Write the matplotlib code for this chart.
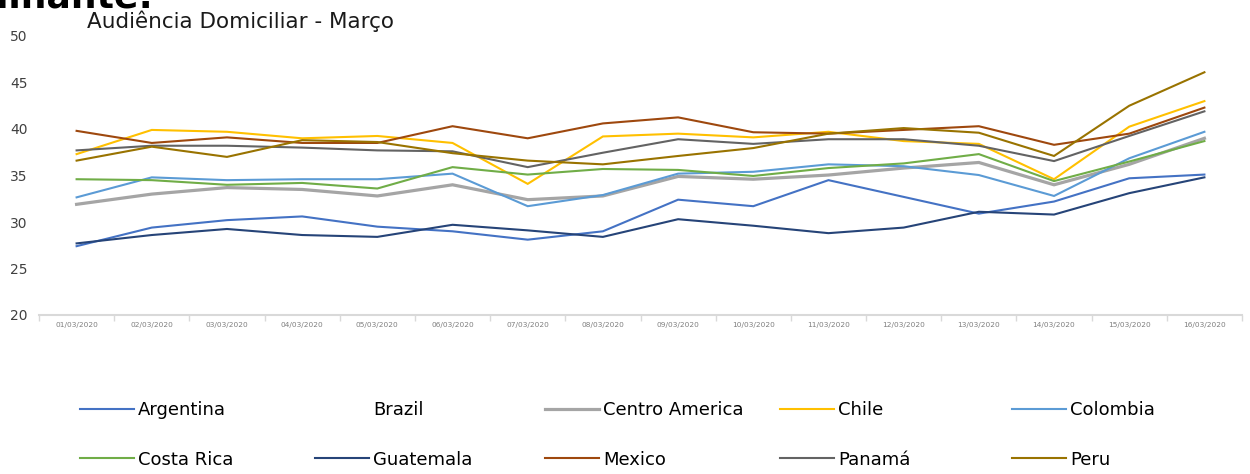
import numpy as np
import matplotlib
matplotlib.use("Agg")
import matplotlib.pyplot as plt
from matplotlib.lines import Line2D

plt.rcParams['font.family'] = ['DejaVu Sans']

dates = ['01/03/2020', '02/03/2020', '03/03/2020', '04/03/2020', '05/03/2020',
         '06/03/2020', '07/03/2020', '08/03/2020', '09/03/2020', '10/03/2020',
         '11/03/2020', '12/03/2020', '13/03/2020', '14/03/2020', '15/03/2020',
         '16/03/2020']

argentina = [27.4, 29.4, 30.2, 30.6, 29.5, 29.0, 28.1, 29.0, 32.4, 31.7, 34.5, 32.7, 30.9, 32.2, 34.7, 35.1]
brazil = []
centro_america = [31.9, 33.0, 33.7, 33.5, 32.8, 34.0, 32.4, 32.8, 34.9, 34.6, 35.05, 35.8, 36.4, 34.0, 36.2, 39.0]
chile = [37.3, 39.9, 39.7, 39.0, 39.25, 38.5, 34.1, 39.2, 39.5, 39.1, 39.7, 38.7, 38.4, 34.6, 40.25, 43.0]
colombia = [32.65, 34.8, 34.5, 34.6, 34.6, 35.2, 31.7, 32.9, 35.2, 35.4, 36.2, 36.0, 35.05, 32.8, 36.85, 39.7]
costa_rica = [34.6, 34.5, 34.0, 34.2, 33.6, 35.9, 35.1, 35.7, 35.6, 34.95, 35.8, 36.3, 37.3, 34.4, 36.5, 38.7]
guatemala = [27.7, 28.6, 29.25, 28.6, 28.4, 29.7, 29.1, 28.4, 30.3, 29.6, 28.8, 29.4, 31.1, 30.8, 33.1, 34.8]
mexico = [39.8, 38.5, 39.1, 38.5, 38.5, 40.3, 39.0, 40.6, 41.25, 39.65, 39.5, 39.9, 40.3, 38.3, 39.5, 42.3]
panama = [37.7, 38.2, 38.2, 38.0, 37.7, 37.6, 35.9, 37.45, 38.9, 38.4, 38.9, 38.9, 38.2, 36.55, 39.25, 41.9]
peru = [36.6, 38.1, 37.0, 38.8, 38.6, 37.4, 36.6, 36.2, 37.1, 37.95, 39.5, 40.1, 39.6, 37.1, 42.5, 46.1]

names = ['Argentina', 'Brazil', 'Centro America', 'Chile', 'Colombia',
         'Costa Rica', 'Guatemala', 'Mexico', 'Panamá', 'Peru']
series = [argentina, brazil, centro_america, chile, colombia,
          costa_rica, guatemala, mexico, panama, peru]
colors = ['#4472C4', '#ED7D31', '#A5A5A5', '#FFC000', '#5B9BD5',
          '#70AD47', '#264478', '#9E480E', '#636363', '#997300']
widths = [1.5, 1.5, 2.3, 1.5, 1.5, 1.5, 1.5, 1.5, 1.5, 1.5]

W, H = 1250, 474
fig = plt.figure(figsize=(W / 100, H / 100), dpi=100)
ax = fig.add_axes([39 / W, 1 - 315 / H, (1242 - 39) / W, (315 - 36) / H])

x = np.arange(len(dates))
handles = []
for name, vals, c, lw in zip(names, series, colors, widths):
    if len(vals) == 0:
        # Brazil has no data, legend entry without line
        handles.append(Line2D([], [], color='none', lw=lw))
        continue
    ln, = ax.plot(x[:len(vals)], vals, color=c, lw=lw, solid_joinstyle='miter')
    handles.append(ln)

ax.set_xlim(-0.5, len(dates) - 0.5)
ax.set_ylim(20, 50)
ax.set_yticks(np.arange(20, 51, 5))
ax.set_xticks(x)
ax.set_xticklabels(dates, fontsize=5.3, color='#7f7f7f')
ax.set_xticks(np.arange(-0.5, len(dates), 1), minor=True)
ax.tick_params(axis='x', which='major', length=0, pad=5)
ax.tick_params(axis='x', which='minor', length=4, color='#d9d9d9', width=1)
ax.tick_params(axis='y', length=0, pad=8, labelsize=10, labelcolor='#404040')
for s in ['top', 'right', 'left']:
    ax.spines[s].set_visible(False)
ax.spines['bottom'].set_color('#d9d9d9')
ax.spines['bottom'].set_linewidth(1.5)

fig.text(87 / W, 1 - 28 / H, 'Audiência Domiciliar - Março', fontsize=15.5,
         color='#1a1a1a', va='baseline', ha='left')
fig.text(153 / W, 1 - 7 / H, 'Dominante:', fontsize=26, fontweight='bold',
         color='black', va='baseline', ha='right')

# legend: one small legend per column so the columns line up like the original
col_x = [80, 315, 545, 780, 1012]
for i, cx in enumerate(col_x):
    hs = [handles[i], handles[i + 5]]
    ls = [names[i], names[i + 5]]
    fig.legend(hs, ls, loc='upper left', bbox_to_anchor=(cx / W, 1 - 401 / H),
               frameon=False, fontsize=13, handlelength=3.0, handletextpad=0.2,
               labelspacing=1.75, borderpad=0, borderaxespad=0)

fig.savefig('out.png', dpi=100)
